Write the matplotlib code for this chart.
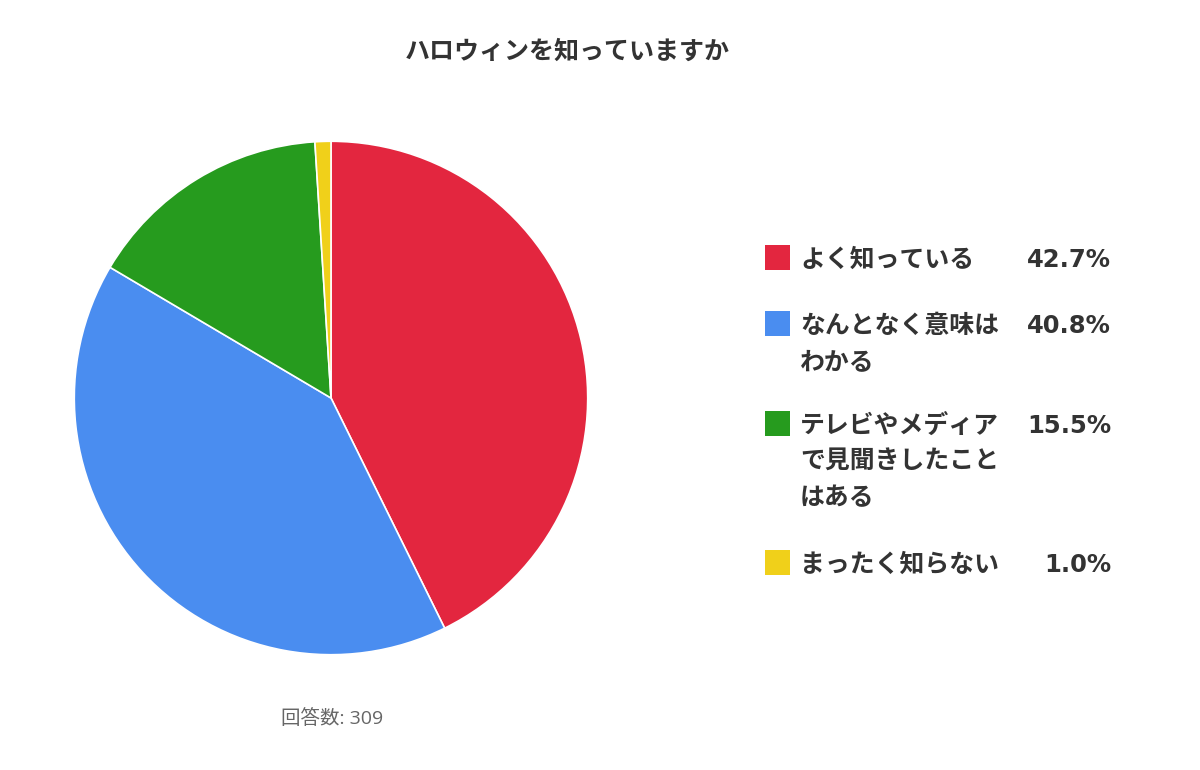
import matplotlib
matplotlib.use("Agg")
import matplotlib.pyplot as plt
from matplotlib.patches import Rectangle

plt.rcParams['font.family'] = ['Noto Sans CJK JP', 'DejaVu Sans']

title = "ハロウィンを知っていますか"
labels = ["よく知っている", "なんとなく意味は\nわかる", "テレビやメディア\nで見聞きしたこと\nはある", "まったく知らない"]
values = [42.7, 40.8, 15.5, 1.0]
colors = ["#E3263F", "#4A8DF0", "#269B1E", "#F0D01A"]
footnote = "回答数: 309"

W, H = 1200, 770
fig = plt.figure(figsize=(W / 100, H / 100), dpi=100)
fig.patch.set_facecolor("white")

cx, cy, r = 331, 398, 258
ax = fig.add_axes([(cx - r) / W, (H - cy - r) / H, 2 * r / W, 2 * r / H])
ax.pie(values, colors=colors, startangle=90, counterclock=False, radius=1,
       wedgeprops=dict(edgecolor="white", linewidth=1.2))
ax.set_xlim(-1.005, 1.005)
ax.set_ylim(-1.005, 1.005)
ax.set_aspect("equal")
ax.axis("off")

fig.text(567 / W, 1 - 52 / H, title, ha="center", va="center",
         fontsize=18, fontweight="bold", color="#333333")

fig.text(332 / W, 1 - 719 / H, footnote, ha="center", va="center",
         fontsize=14, color="#666666", family=['Open Sans', 'Noto Sans CJK JP'])

item_tops = [245, 311, 411, 550]
line_h = 36
for lab, val, col, top in zip(labels, values, colors, item_tops):
    fig.add_artist(Rectangle((765 / W, 1 - (top + 25) / H), 25 / W, 25 / H,
                             transform=fig.transFigure, facecolor=col, edgecolor="none"))
    for i, line in enumerate(lab.split("\n")):
        fig.text(800 / W, 1 - (top + 15 + i * line_h) / H, line, ha="left", va="center",
                 fontsize=17.9, fontweight="bold", color="#333333")
    fig.text(1111 / W, 1 - (top + 15) / H, f"{val:.1f}%", ha="right", va="center",
             fontsize=17.5, fontweight="bold", color="#333333", family=['DejaVu Sans'])

fig.savefig("out.png", dpi=100)
